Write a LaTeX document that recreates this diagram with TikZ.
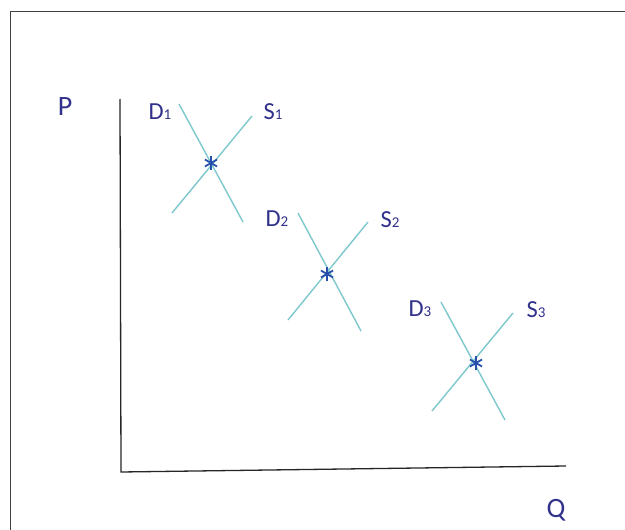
\documentclass[tikz,border=0pt]{standalone}
\usepackage{fontspec}
\setmainfont{Carlito}
\usetikzlibrary{calc}
\definecolor{lbl}{RGB}{50,50,140}
\definecolor{curve}{RGB}{125,200,205}
\definecolor{eq}{RGB}{40,80,170}
\newcommand{\sbs}[1]{{\fontsize{15}{15}\selectfont #1}}
\begin{document}
\begin{tikzpicture}[x=1pt,y=-1pt,
  frame/.style={draw=black!75,line width=1pt},
  axis/.style={draw=black!85,line width=1.3pt},
  cline/.style={draw=curve,line width=1.4pt},
  big/.style={text=lbl,font=\fontsize{28}{28}\selectfont,inner sep=0pt},
  lab/.style={text=lbl,font=\fontsize{24.5}{24.5}\selectfont,inner sep=0pt},
  star/.style={draw=eq,line width=1.8pt}]
\useasboundingbox (0,0) rectangle (625,530);
\fill[white] (0,0) rectangle (625,530);
\draw[frame] (10,531) -- (10,11) -- (626,11);
% axes
\coordinate (ytop) at (120,99);
\coordinate (orig) at (121,472);
\coordinate (xend) at (566,466);
\draw[axis] (ytop) -- (orig) -- (xend);
\node[big] (P) at (65,107) {P};
\node[big] (Q) at (556,510) {Q};
% market 1
\coordinate (d1a) at (179,104); \coordinate (d1b) at (243,222);
\coordinate (s1a) at (172,213); \coordinate (s1b) at (252,116);
\draw[cline] (d1a) -- (d1b);
\draw[cline] (s1a) -- (s1b);
\node[lab] (D1) at (160,112) {D\sbs{1}};
\node[lab] (S1) at (273,112) {S\sbs{1}};
% market 2
\coordinate (d2a) at (298,213); \coordinate (d2b) at (361,331);
\coordinate (s2a) at (288,320); \coordinate (s2b) at (368,222);
\draw[cline] (d2a) -- (d2b);
\draw[cline] (s2a) -- (s2b);
\node[lab] (D2) at (277,219) {D\sbs{2}};
\node[lab] (S2) at (390,220) {S\sbs{2}};
% market 3
\coordinate (d3a) at (441,302); \coordinate (d3b) at (505,420);
\coordinate (s3a) at (432,411); \coordinate (s3b) at (513,313);
\draw[cline] (d3a) -- (d3b);
\draw[cline] (s3a) -- (s3b);
\node[lab] (D3) at (420,309) {D\sbs{3}};
\node[lab] (S3) at (536,310) {S\sbs{3}};
% equilibria
\foreach \n/\px/\py in {e1/211/163, e2/327/274, e3/476/363}{
  \coordinate (\n) at (\px,\py);
  \foreach \a in {90,30,150}{
    \draw[star] ($(\n)+(\a:7)$) -- ($(\n)+(\a+180:7)$);
  }
}
\end{tikzpicture}
\end{document}
